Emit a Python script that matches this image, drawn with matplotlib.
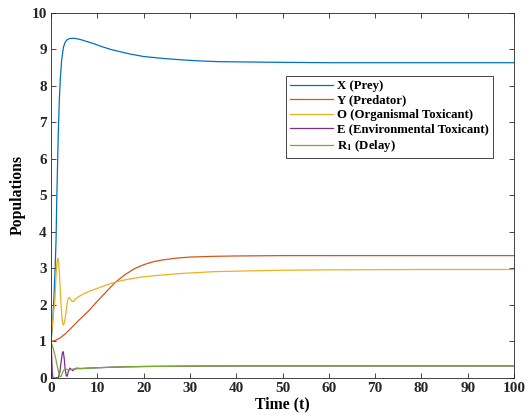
import matplotlib
matplotlib.use('Agg')
import matplotlib.pyplot as plt

# ===============================
# Data
# ===============================
t_x = [0, 0.3, 0.6, 0.9, 1.1, 1.25, 1.45, 1.6, 1.8, 2.0, 2.3, 2.7, 3.1, 3.5, 4.0, 4.6, 5.5, 6.5,
       8, 9.5, 11, 13, 15, 17, 20, 24, 28, 32, 36, 42, 50, 60, 75, 100]
prey = [1, 1.4, 2.1, 3.0, 3.8, 4.9, 6.0, 6.8, 7.6, 8.15, 8.7, 9.06, 9.2, 9.26, 9.29, 9.3, 9.29, 9.26,
        9.2, 9.14, 9.07, 8.99, 8.93, 8.87, 8.8, 8.75, 8.71, 8.68, 8.66, 8.65, 8.64, 8.63, 8.63, 8.63]

t_y = [0, 1, 2, 3, 4, 5, 6, 8, 10, 12, 14, 16, 18, 20, 22, 24, 27, 30, 35, 40, 50, 60, 80, 100]
predator = [1.0, 1.03, 1.1, 1.2, 1.32, 1.45, 1.58, 1.82, 2.1, 2.37, 2.63, 2.83, 2.99, 3.1, 3.18,
            3.23, 3.28, 3.31, 3.33, 3.34, 3.35, 3.35, 3.35, 3.35]

t_o = [0, 0.4, 0.86, 1.05, 1.22, 1.35, 1.5, 1.65, 1.8, 1.94, 2.1, 2.3, 2.45, 2.66, 2.85, 3.05, 3.24,
       3.45, 3.6, 3.8, 3.96, 4.2, 4.6, 4.9, 5.2, 5.9, 7, 8, 9.5, 11, 13, 15, 17, 20, 24, 28, 35, 42,
       50, 60, 80, 100]
org_tox = [1.0, 1.6, 2.14, 2.7, 3.05, 3.22, 3.27, 3.15, 2.9, 2.59, 2.15, 1.77, 1.55, 1.45, 1.5, 1.62,
           1.8, 2.0, 2.13, 2.19, 2.2, 2.16, 2.09, 2.1, 2.15, 2.22, 2.3, 2.36, 2.43, 2.5, 2.59, 2.66,
           2.71, 2.77, 2.82, 2.86, 2.91, 2.93, 2.95, 2.96, 2.97, 2.97]

t_e = [0, 0.15, 0.3, 0.45, 1.0, 1.6, 1.9, 2.2, 2.45, 2.65, 2.85, 3.05, 3.3, 3.5, 3.75, 4.05, 4.35,
       4.7, 5.0, 5.5, 6.5, 8, 10, 13, 16, 20, 25, 30, 40, 60, 100]
env_tox = [1.0, 0.6, 0.1, 0.0, 0.0, 0.02, 0.15, 0.45, 0.68, 0.72, 0.55, 0.25, 0.06, 0.05, 0.18, 0.27,
           0.24, 0.2, 0.24, 0.27, 0.26, 0.27, 0.28, 0.295, 0.305, 0.315, 0.32, 0.325, 0.33, 0.33, 0.33]

t_r = [0, 0.5, 1.0, 1.4, 1.7, 1.95, 2.2, 2.5, 2.8, 3.1, 3.5, 4.0, 4.5, 5.5, 7, 10, 13, 16, 20, 25,
       30, 40, 60, 100]
delay = [1.0, 0.8, 0.55, 0.3, 0.12, 0.03, 0.05, 0.15, 0.22, 0.25, 0.23, 0.22, 0.24, 0.25, 0.26,
         0.28, 0.295, 0.305, 0.315, 0.32, 0.325, 0.33, 0.33, 0.33]

labels = ['X (Prey)', 'Y (Predator)', 'O (Organismal Toxicant)', 'E (Environmental Toxicant)',
          r'R$_\mathbf{1}$ (Delay)']
colors = ['#0072BD', '#D95319', '#EDB120', '#7E2F8E', '#77AC30']

plt.rcParams['font.family'] = ['Liberation Serif', 'DejaVu Serif']
plt.rcParams['font.weight'] = 'bold'
plt.rcParams['mathtext.fontset'] = 'stix'

fig = plt.figure(figsize=(5.25, 4.18), dpi=100)
ax = fig.add_axes([0.0971, 0.0957, 0.882, 0.874])

series = [(t_x, prey), (t_y, predator), (t_o, org_tox), (t_e, env_tox), (t_r, delay)]
for (t, v), lab, col in zip(series, labels, colors):
    ax.plot(t, v, color=col, linewidth=0.9, label=lab)

ax.set_xlim(0, 100)
ax.set_ylim(0, 10)
ax.set_xticks(range(0, 101, 10))
ax.set_yticks(range(0, 11))
ax.tick_params(direction='in', top=True, right=True, length=3.5, width=0.6,
               labelsize=11, colors='#262626', pad=3)
for lbl in ax.get_xticklabels() + ax.get_yticklabels():
    lbl.set_fontweight('bold')
for s in ax.spines.values():
    s.set_color('#262626')
    s.set_linewidth(0.6)

ax.set_xlabel('Time (t)', fontsize=11.3, fontweight='bold', labelpad=1)
ax.set_ylabel('Populations', fontsize=11.3, fontweight='bold', labelpad=4)

leg = ax.legend(loc='upper left', bbox_to_anchor=(0.508, 0.826), fontsize=9.2,
                handlelength=3.4, labelspacing=0.2, borderpad=0.3, handletextpad=0.3,
                fancybox=False, framealpha=1, edgecolor='#262626', borderaxespad=0)
leg.get_frame().set_linewidth(0.6)
for txt in leg.get_texts():
    txt.set_fontweight('bold')

fig.savefig('out.png', dpi=100)
